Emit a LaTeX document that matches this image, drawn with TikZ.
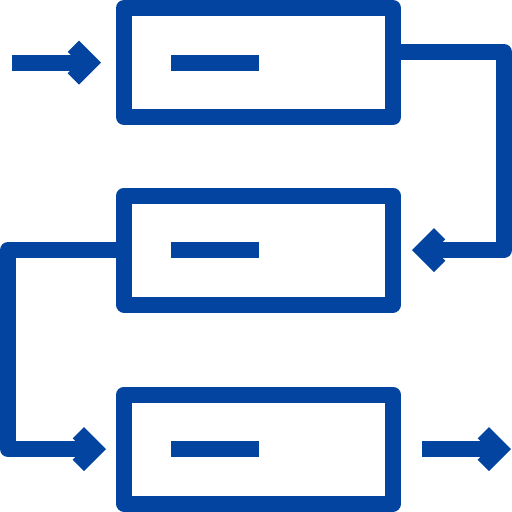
\documentclass[tikz,border=0pt]{standalone}
\definecolor{iconblue}{RGB}{2,68,159}
\begin{document}
\begin{tikzpicture}[x=1pt,y=-1pt,
  box/.style={draw=iconblue,line width=16pt,line join=round,minimum width=269pt,minimum height=109pt,inner sep=0pt,outer sep=0pt},
  wire/.style={draw=iconblue,line width=16pt,line join=round,line cap=butt},
  chev/.pic={\fill[iconblue] (0,0) -- (-22,-22) -- (-33.3,-10.7) -- (-22.6,0) -- (-33.3,10.7) -- (-22,22) -- cycle;}]
\useasboundingbox (0,0) rectangle (512,512);
\node[box] (b1) at (258.5,62.5) {};
\node[box] (b2) at (258.5,250) {};
\node[box] (b3) at (258.5,449) {};
% dashes inside boxes
\draw[wire] ([xshift=-87.5pt]b1.center) -- (b1.center);
\draw[wire] ([xshift=-87.5pt]b2.center) -- (b2.center);
\draw[wire] ([xshift=-87.5pt]b3.center) -- (b3.center);
% input arrow
\coordinate (a0) at (12,62.5);
\coordinate (a1) at (101,62.5);
\draw[wire] (a0) -- ([xshift=-20pt]a1);
\pic at (a1) {chev};
% connector 1 -> box 2
\coordinate (c1) at ([xshift=19pt]b2.east);
\draw[wire] ([yshift=10.5pt]b1.east) -| (504,250) -- ([xshift=20pt]c1);
\pic[rotate=180] at (c1) {chev};
% connector 2 -> box 3
\coordinate (c2) at (106,449);
\draw[wire] (b2.west) -| (8,449) -- ([xshift=-20pt]c2);
\pic at (c2) {chev};
% output arrow
\coordinate (o0) at (422,449);
\coordinate (o1) at (511,449);
\draw[wire] (o0) -- ([xshift=-20pt]o1);
\pic at (o1) {chev};
\end{tikzpicture}
\end{document}
